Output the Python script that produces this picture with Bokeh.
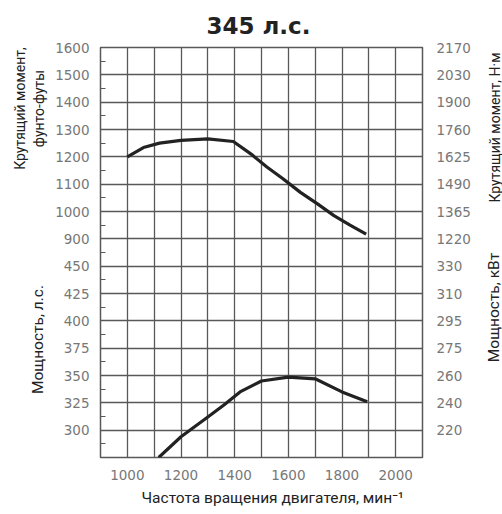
import math
from bokeh.plotting import figure
from bokeh.layouts import row
from bokeh.models import Range1d, LinearAxis, FixedTicker, Label, Title
from bokeh.embed import file_html
from bokeh.resources import INLINE

# ---- data ----
rpm_torque = [1000, 1060, 1120, 1200, 1300, 1395, 1460, 1520, 1580, 1645, 1710, 1770, 1830, 1890]
torque_lbft = [1200, 1234, 1250, 1260, 1266, 1256, 1211, 1163, 1120, 1070, 1027, 985, 950, 917]

rpm_power = [1117, 1200, 1300, 1360, 1420, 1500, 1600, 1700, 1800, 1894]
power_hp = [275, 294, 312, 323, 335, 345, 348.5, 347, 335, 326]

rpm_ticks = [1000, 1200, 1400, 1600, 1800, 2000]
torque_ticks = [900, 1000, 1100, 1200, 1300, 1400, 1500, 1600]
torque_nm_labels = ["1220", "1365", "1490", "1625", "1760", "1900", "2030", "2170"]
power_ticks = [300, 325, 350, 375, 400, 425, 450]
power_kw_labels = ["220", "240", "260", "275", "295", "310", "330"]

title_text = "345 л.с."
x_title = "Частота вращения двигателя, мин⁻¹"
left_title_1 = "Крутящий момент,"
left_title_2 = "фунто-футы"
left_title_3 = "Мощность, л.с."
right_title_1 = "Крутящий момент, Н·м"
right_title_2 = "Мощность, кВт"

# ---- ranges ----
x_start, x_end = 900, 2100
tq_start, tq_end = 100, 1600
hp_start, hp_end = 275, 650

GRID = "#585858"
TICK = "#777777"
TEXT = "#222222"
H = 514
LEFT_W, MAIN_W, RIGHT_W = 50, 430, 22
FRAME_TOP, FRAME_BOTTOM = 47, 457

p = figure(width=MAIN_W, height=H, output_backend="svg", toolbar_location=None,
           x_range=Range1d(x_start, x_end), y_range=Range1d(tq_start, tq_end),
           min_border_left=50, min_border_right=58, min_border_top=FRAME_TOP,
           min_border_bottom=H - FRAME_BOTTOM,
           background_fill_color="white", border_fill_color="white")
p.extra_y_ranges = {"hp": Range1d(hp_start, hp_end)}
p.outline_line_color = GRID
p.outline_line_width = 1.5

p.title.text = title_text
p.title.align = "left"
p.title.offset = 106
p.title.standoff = 17
p.title.text_font = "DejaVu Sans"
p.title.text_font_style = "bold"
p.title.text_font_size = "23px"
p.title.text_color = TEXT

# grid: every 100 rpm, every grid unit on y
p.xgrid.ticker = FixedTicker(ticks=list(range(x_start, x_end + 1, 100)))
p.ygrid.ticker = FixedTicker(ticks=list(range(tq_start, tq_end + 1, 100)))
for g in (p.xgrid[0], p.ygrid[0]):
    g.grid_line_color = GRID
    g.grid_line_width = 1.3

# map power ticks onto the torque (main) range
def hp_to_main(h):
    return tq_start + (h - hp_start) / (hp_end - hp_start) * (tq_end - tq_start)

tick_pos = list(torque_ticks) + [hp_to_main(h) for h in power_ticks]
left_over = {}
right_over = {}
for t, lab in zip(torque_ticks, torque_nm_labels):
    left_over[t] = str(t)
    right_over[t] = lab
for h, lab in zip(power_ticks, power_kw_labels):
    pos = hp_to_main(h)
    left_over[pos] = str(h)
    right_over[pos] = lab

minor = list(range(tq_start + 50, tq_end, 100))

def style_axis(ax):
    ax.axis_line_color = None
    ax.major_tick_line_color = None
    ax.major_label_text_font = "DejaVu Sans"
    ax.major_label_text_font_size = "13.5px"
    ax.major_label_text_color = TICK

ly = p.yaxis[0]
ly.ticker = FixedTicker(ticks=tick_pos, minor_ticks=minor)
ly.major_label_overrides = left_over
style_axis(ly)
ly.minor_tick_in = 5
ly.minor_tick_out = 0
ly.minor_tick_line_color = GRID
ly.major_label_standoff = 5

ry = LinearAxis(ticker=FixedTicker(ticks=tick_pos), major_label_overrides=right_over)
style_axis(ry)
ry.minor_tick_line_color = None
ry.major_label_standoff = 8
p.add_layout(ry, "right")

xa = p.xaxis[0]
xa.ticker = FixedTicker(ticks=rpm_ticks)
style_axis(xa)
xa.minor_tick_line_color = None
xa.major_label_standoff = 6

xt = Title(text=x_title, align="left", offset=41, standoff=8,
           text_font="Roboto", text_font_size="15.5px", text_font_style="normal",
           text_color=TEXT)
p.add_layout(xt, "below")

# curves
p.line(rpm_torque, torque_lbft, line_width=3.2, line_color=TEXT, line_join="round")
p.line(rpm_power, power_hp, y_range_name="hp", line_width=3.2, line_color=TEXT, line_join="round")

# side panels holding the vertical titles (their frames align with the main frame)
def side_fig(w):
    f = figure(width=w, height=H, output_backend="svg", toolbar_location=None,
               x_axis_location=None, y_axis_location=None, min_border=0,
               x_range=Range1d(0, w), y_range=Range1d(0, H))
    f.outline_line_color = None
    f.grid.visible = False
    return f

def vlabel(f, text, x, y_top, size="15.5px"):
    f.add_layout(Label(x=x, y=FRAME_BOTTOM - y_top, x_units="screen", y_units="screen",
                       text=text, angle=math.pi / 2, text_align="center",
                       text_baseline="middle", text_font="Roboto",
                       text_font_size=size, text_color=TEXT))

lf = side_fig(LEFT_W)
vlabel(lf, left_title_1, 19, 108, "14px")
vlabel(lf, left_title_2, 38, 108, "14px")
vlabel(lf, left_title_3, 37, 339)

rf = side_fig(RIGHT_W)
vlabel(rf, right_title_1, 14, 127, "14px")
vlabel(rf, right_title_2, 13, 307)

layout = row(lf, p, rf, spacing=0)
open("out.html", "w").write(file_html(layout, INLINE))
